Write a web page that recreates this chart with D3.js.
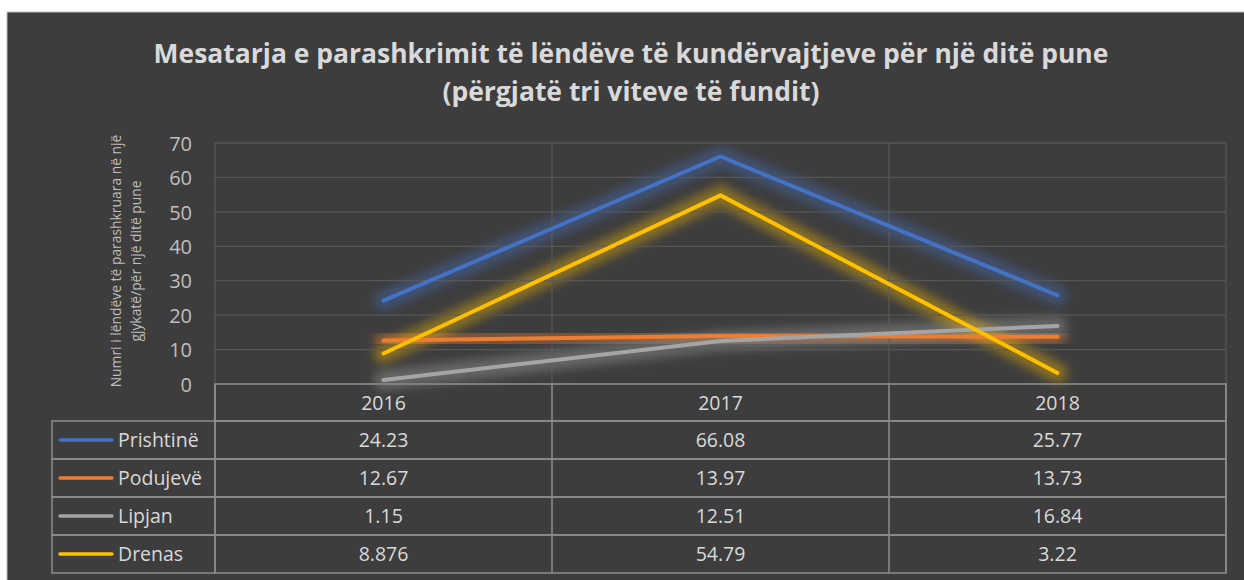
<!DOCTYPE html>
<html><head><meta charset="utf-8">
<script src="https://cdn.jsdelivr.net/npm/d3@7"></script>
<style>body{margin:0;background:#fff}svg{display:block}</style>
</head><body>
<svg id="c" width="1244" height="580"></svg>
<script>
const categories = ["2016","2017","2018"];
const seriesNames = ["Prishtinë","Podujevë","Lipjan","Drenas"];
const prishtine = [24.23, 66.08, 25.77];
const podujeve = [12.67, 13.97, 13.73];
const lipjan = [1.15, 12.51, 16.84];
const drenas = [8.876, 54.79, 3.22];
const labels = [["24.23","66.08","25.77"],["12.67","13.97","13.73"],["1.15","12.51","16.84"],["8.876","54.79","3.22"]];
const yTicks = [0,10,20,30,40,50,60,70];
const colors = ["#4472c4","#ed7d31","#a5a5a5","#ffc000"];
const titleLines = ["Mesatarja e parashkrimit të lëndëve të kundërvajtjeve për një ditë pune","(përgjatë tri viteve të fundit)"];
const yTitle = ["Numri i lëndëve të parashkruara në një","gjykatë/për një ditë pune"];

const series = [prishtine, podujeve, lipjan, drenas];
const svg = d3.select("#c");
const font = "'Open Sans', sans-serif";
svg.append("rect").attr("x",7).attr("y",12).attr("width",1240).attr("height",570).attr("fill","#3d3d3d").attr("stroke","#bfbfbf").attr("stroke-width",1);

const L=215, R=1226, T=143, B=384;
const x = d3.scaleBand().domain(categories).range([L,R]);
const y = d3.scaleLinear().domain([0,70]).range([B,T]);

// title
const tt = svg.selectAll("text.title").data(titleLines).enter().append("text")
 .attr("x",631).attr("y",(d,i)=>63+i*38).attr("text-anchor","middle")
 .attr("font-family",font).attr("font-weight","bold").attr("font-size",25).attr("fill","#d9d9d9").text(d=>d);
{ const w = tt.node().getComputedTextLength(); const fs = 25*955/w; tt.attr("font-size",fs); }

// glow filters
const defs = svg.append("defs");
colors.forEach((c,i)=>{
  const f = defs.append("filter").attr("id","glow"+i).attr("x","-20%").attr("y","-60%").attr("width","140%").attr("height","220%");
  f.append("feGaussianBlur").attr("in","SourceGraphic").attr("stdDeviation",5);
});
const line = d3.line().x((d,i)=>x(categories[i])+x.bandwidth()/2).y(d=>y(d));
series.forEach((s,i)=>{
  svg.append("path").datum(s).attr("d",line).attr("fill","none").attr("stroke",colors[i]).attr("stroke-width",20).attr("stroke-opacity",0.38).attr("stroke-linecap","round").attr("filter","url(#glow"+i+")");
});

// grid
const g = svg.append("g");
g.selectAll("line.h").data(yTicks).enter().append("line")
 .attr("x1",L).attr("x2",R).attr("y1",d=>y(d)).attr("y2",d=>y(d)).attr("stroke","#5a5a5a").attr("stroke-opacity",0.85).attr("stroke-width",1.3);
g.selectAll("line.v").data(categories.map(c=>x(c)).concat([R])).enter().append("line")
 .attr("x1",d=>d).attr("x2",d=>d).attr("y1",T).attr("y2",B).attr("stroke","#5a5a5a").attr("stroke-opacity",0.85).attr("stroke-width",1.3);

// y axis
const ya = svg.append("g").attr("transform",`translate(${L-23},0)`).call(d3.axisLeft(y).tickValues(yTicks).tickSize(0).tickPadding(0));
ya.select(".domain").remove();
ya.selectAll("text").attr("font-family",font).attr("font-size",20).attr("fill","#bfbfbf").attr("dy","0.36em");

// y title
const yt = svg.selectAll("text.yt").data(yTitle).enter().append("text")
 .attr("transform",(d,i)=>`translate(${121+i*20},261) rotate(-90)`).attr("text-anchor","middle")
 .attr("font-family",font).attr("font-size",13).attr("fill","#bfbfbf").text(d=>d);
{ const w = yt.node().getComputedTextLength(); yt.attr("font-size",13*253/w); }

series.forEach((s,i)=>{
  svg.append("path").datum(s).attr("d",line).attr("fill","none").attr("stroke",colors[i]).attr("stroke-width",4).attr("stroke-linecap","round").attr("stroke-linejoin","round");
});

// data table
const rowH = 38, headTop = B, headH = 37;
const tb = svg.append("g");
const tcol = "#8c8c8c";
const fsT = 19.5;
tb.append("rect").attr("x",L).attr("y",headTop).attr("width",R-L).attr("height",headH).attr("fill","none").attr("stroke",tcol).attr("stroke-width",1.5);
categories.forEach(c=>{
  tb.append("line").attr("x1",x(c)).attr("x2",x(c)).attr("y1",headTop).attr("y2",headTop+headH+rowH*4).attr("stroke",tcol).attr("stroke-width",1.5);
  tb.append("text").attr("x",x(c)+x.bandwidth()/2).attr("y",headTop+headH/2+7).attr("text-anchor","middle")
   .attr("font-family",font).attr("font-size",fsT).attr("fill","#d9d9d9").text(c);
});
const LL = 52;
seriesNames.forEach((n,i)=>{
  const ry = headTop+headH+i*rowH;
  tb.append("rect").attr("x",LL).attr("y",ry).attr("width",R-LL).attr("height",rowH).attr("fill","none").attr("stroke",tcol).attr("stroke-width",1.5);
  tb.append("line").attr("x1",LL+8).attr("x2",LL+60).attr("y1",ry+rowH/2).attr("y2",ry+rowH/2).attr("stroke",colors[i]).attr("stroke-width",3.5).attr("stroke-linecap","round");
  tb.append("text").attr("x",LL+66).attr("y",ry+rowH/2+7).attr("font-family",font).attr("font-size",fsT).attr("fill","#d9d9d9").text(n);
  categories.forEach((c,j)=>{
    tb.append("text").attr("x",x(c)+x.bandwidth()/2).attr("y",ry+rowH/2+7).attr("text-anchor","middle")
     .attr("font-family",font).attr("font-size",fsT).attr("fill","#d9d9d9").text(labels[i][j]);
  });
});
tb.append("line").attr("x1",L).attr("x2",L).attr("y1",headTop).attr("y2",headTop+headH+rowH*4).attr("stroke",tcol).attr("stroke-width",1.5);
tb.append("line").attr("x1",R).attr("x2",R).attr("y1",headTop).attr("y2",headTop+headH+rowH*4).attr("stroke",tcol).attr("stroke-width",1.5);
</script>
</body></html>
